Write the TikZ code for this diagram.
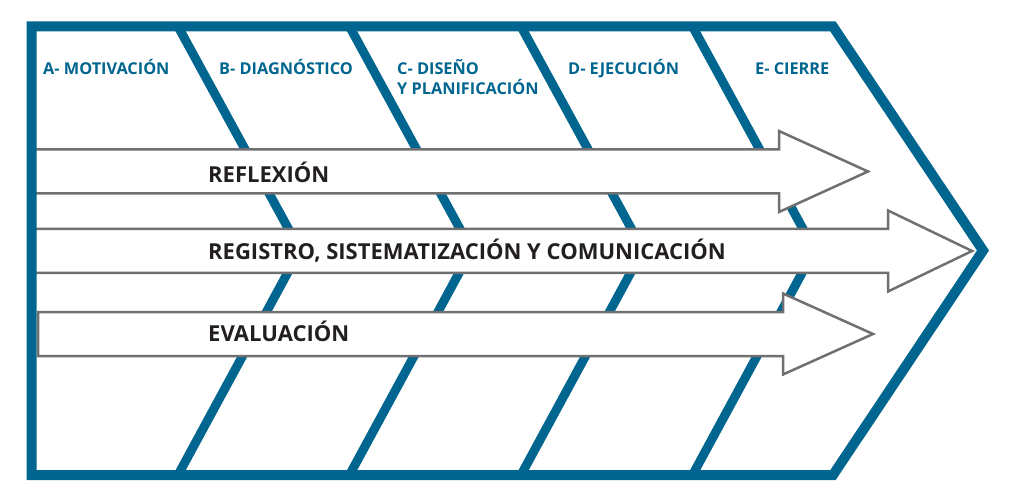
\documentclass[tikz,border=0pt]{standalone}
\usepackage{fontspec}
\setmainfont{Open Sans}
\definecolor{frameblue}{RGB}{0,101,143}
\definecolor{arrowgray}{RGB}{112,112,114}
\definecolor{labelblack}{RGB}{35,31,32}
\tikzset{
  stage/.style={text=frameblue, font=\fontsize{16.3}{20}\selectfont\bfseries,
    anchor=base west, inner sep=0pt, align=left},
  strand/.style={text=labelblack, font=\fontsize{22}{26}\selectfont\bfseries,
    anchor=base west, inner sep=0pt},
  fishbone/.style={draw=frameblue, line width=9pt},
  process/.style={draw=arrowgray, fill=white, line width=2.5pt, line join=miter},
}

\begin{document}
\begin{tikzpicture}[x=1pt, y=-1pt]
  \useasboundingbox (0,0) rectangle (1024,502);

  % Stage dividers
  \foreach \x in {178,349.5,521,692.5}
    \draw[fishbone] (\x,26.5) -- (\x+122,250) -- (\x,475);

  % Process arrows (left end, centre line, shaft end, tip)
  \foreach \xl/\c/\xs/\xt in {33/171.5/779/868, 33/251/888/972, 38/334/783/873}
    \draw[process] (\xl,\c-22) -- (\xs,\c-22) -- (\xs,\c-40.5) -- (\xt,\c)
      -- (\xs,\c+40.5) -- (\xs,\c+22) -- (\xl,\c+22) -- cycle;

  % Outer frame
  \draw[fishbone, line width=10pt, line join=miter]
    (31.5,26.5) -- (833,26.5) -- (983,250.5) -- (833,475) -- (31.5,475) -- cycle;

  % Stage labels
  \node[stage] (motivacion)   at (43,75)  {A- MOTIVACIÓN};
  \node[stage] (diagnostico)  at (219,75) {B- DIAGNÓSTICO};
  \node[stage] (diseno)       at (397,95) {C- DISEÑO\\Y PLANIFICACIÓN};
  \node[stage] (ejecucion)    at (568,75) {D- EJECUCIÓN};
  \node[stage] (cierre)       at (755,75) {E- CIERRE};

  % Arrow labels
  \node[strand] (reflexion)   at (208,183) {REFLEXIÓN};
  \node[strand] (registro)    at (208,260) {REGISTRO, SISTEMATIZACIÓN Y COMUNICACIÓN};
  \node[strand] (evaluacion)  at (208,341) {EVALUACIÓN};
\end{tikzpicture}
\end{document}
